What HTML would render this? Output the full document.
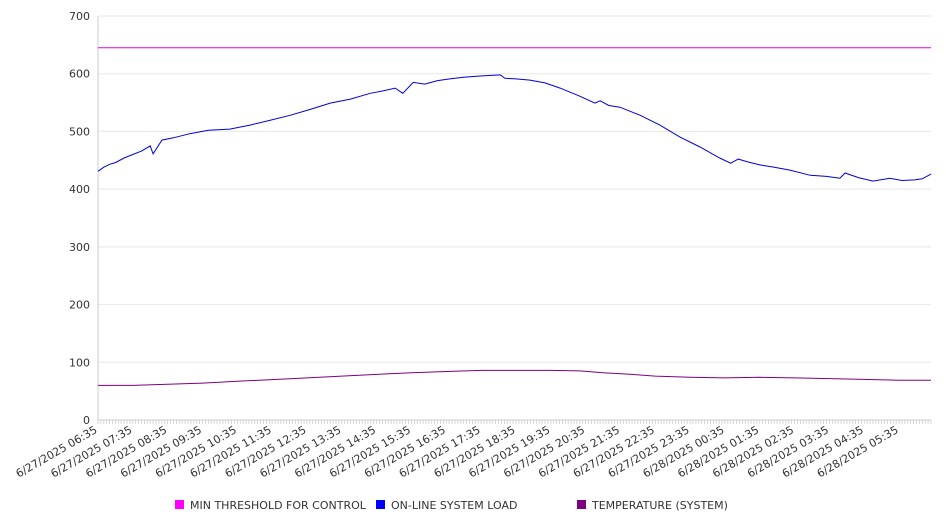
<!DOCTYPE html>
<html><head><meta charset="utf-8"><style>
body{margin:0;background:#fff;}
svg{display:block;font-family:"DejaVu Sans","Liberation Sans",sans-serif;}
</style></head><body>
<svg id="chart" width="946" height="526" viewBox="0 0 946 526">
<g id="grid"></g>
<g id="yaxis"></g>
<g id="xaxis"></g>
<g id="series"></g>
<g id="legend"></g>
</svg>
<script>
const yTicks=[0,100,200,300,400,500,600,700];
const xLabels=["6/27/2025 06:35","6/27/2025 07:35","6/27/2025 08:35","6/27/2025 09:35","6/27/2025 10:35","6/27/2025 11:35","6/27/2025 12:35","6/27/2025 13:35","6/27/2025 14:35","6/27/2025 15:35","6/27/2025 16:35","6/27/2025 17:35","6/27/2025 18:35","6/27/2025 19:35","6/27/2025 20:35","6/27/2025 21:35","6/27/2025 22:35","6/27/2025 23:35","6/28/2025 00:35","6/28/2025 01:35","6/28/2025 02:35","6/28/2025 03:35","6/28/2025 04:35","6/28/2025 05:35"];
const thresholdMin=[0,1435];
const thresholdVal=[645,645];
const loadMin=[0,10,20,30,45,60,75,90,95,110,130,158,190,227,262,295,331,365,400,435,469,490,512,525,543,563,585,606,630,658,693,701,720,744,770,796,830,856,865,880,899,934,968,1003,1037,1071,1090,1103,1120,1140,1165,1192,1227,1255,1278,1287,1310,1335,1364,1385,1407,1420,1435];
const loadVal=[431,438,443,446,454,460,466,475,461,485,489,496,502,504,511,519,528,538,549,556,566,570,575,566,585,582,588,591,594,596,598,592,591,589,584,575,561,549,553,545,542,528,511,490,473,454,445,452,447,442,438,433,424,422,419,428,420,414,419,415,416,418,426];
const tempMin=[0,60,120,180,240,300,360,420,480,540,600,660,720,780,830,870,920,960,1020,1080,1140,1200,1290,1380,1435];
const tempVal=[60,60,62,64,67,70,73,76,79,82,84,86,86,86,85,82,79,76,74,73,74,73,71,69,69];

const NS="http://www.w3.org/2000/svg";
const X0=98,X1=931,Y0=420,Y1=16,TMAX=1435,VMAX=700;
const xs=m=>X0+(m/TMAX)*(X1-X0);
const ys=v=>Y0-(v/VMAX)*(Y0-Y1);
function mk(tag,attrs,parent){const e=document.createElementNS(NS,tag);for(const k in attrs)e.setAttribute(k,attrs[k]);parent.appendChild(e);return e;}
const grid=document.getElementById('grid'),yax=document.getElementById('yaxis'),xax=document.getElementById('xaxis'),ser=document.getElementById('series'),leg=document.getElementById('legend');
yTicks.forEach(v=>{
  const l=mk('line',{x1:X0,x2:X1,y1:ys(v),y2:ys(v),stroke:'#e8e8e8','stroke-width':1},grid);
  
  
  const t=mk('text',{x:90,y:ys(v)+4,'text-anchor':'end','font-size':11,fill:'#333'},yax);
  t.textContent=v;
  
  
});
const ya=mk('line',{x1:X0,x2:X0,y1:Y1,y2:Y0,stroke:'#ccc'},yax);


const xa=mk('line',{x1:X0,x2:X1,y1:Y0,y2:Y0,stroke:'#ccc'},xax);


for(let m=0;m<=TMAX;m+=5){
  const tk=mk('line',{x1:xs(m),x2:xs(m),y1:Y0,y2:Y0+4,stroke:'#ccc','stroke-width':0.8},xax);
  
  
}
xLabels.forEach((s,i)=>{
  const x=xs(i*60);
  const t=mk('text',{x:x,y:Y0+12,'text-anchor':'end','font-size':11,fill:'#333',transform:`rotate(-30 ${x} ${Y0+12})`},xax);
  t.textContent=s;
  
  
});
function line(mins,vals,color,name){
  const d=mins.map((m,i)=>(i?'L':'M')+xs(m).toFixed(1)+' '+ys(vals[i]).toFixed(1)).join(' ');
  const p=mk('path',{d:d,fill:'none',stroke:color,'stroke-width':1},ser);
  
  
}
line(thresholdMin,thresholdVal,'#e000e0','min-threshold-line');
line(tempMin,tempVal,'#800080','temperature-line');
line(loadMin,loadVal,'#0000dd','online-system-load-line');
const items=[['MIN THRESHOLD FOR CONTROL','#ff00ff',175,'legend-min-threshold'],['ON-LINE SYSTEM LOAD','#0000ff',376,'legend-online-load'],['TEMPERATURE (SYSTEM)','#800080',577,'legend-temperature']];
items.forEach(([s,c,x,n])=>{
  const g=mk('g',{},leg);
  
  
  mk('rect',{x:x,y:500,width:9,height:9,fill:c},g);
  const t=mk('text',{x:x+15,y:509,'font-size':11,fill:'#333'},g);
  t.textContent=s;
});
</script>
</body></html>
